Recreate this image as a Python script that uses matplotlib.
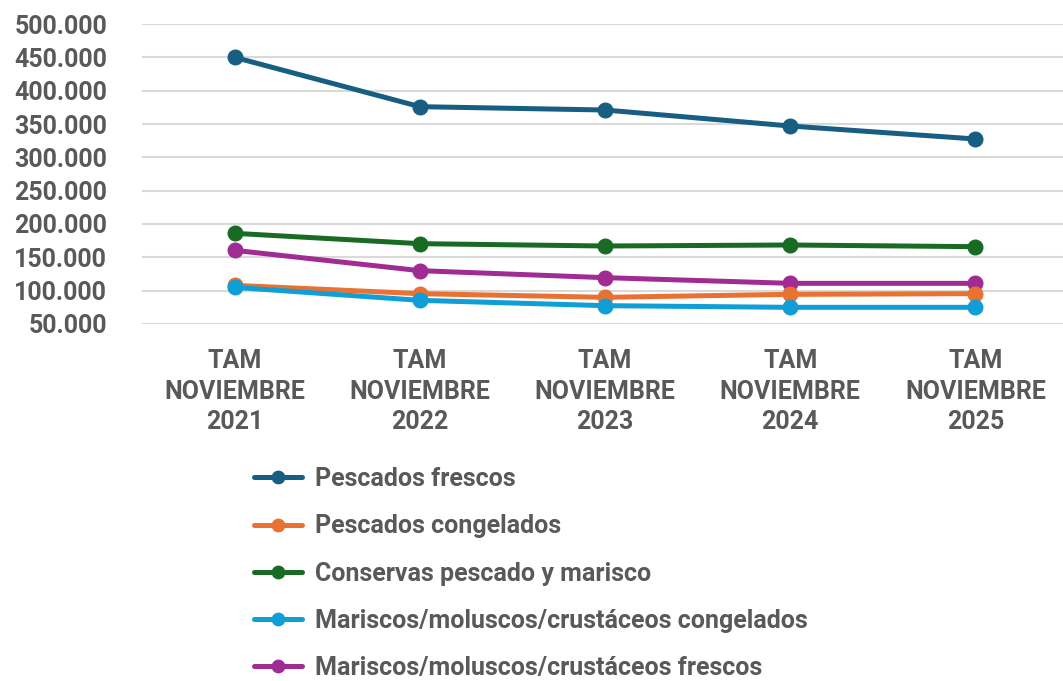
import matplotlib
matplotlib.use("Agg")
import matplotlib.pyplot as plt
from matplotlib.ticker import FuncFormatter

# datos
periodos = ["TAM\nNOVIEMBRE\n2021", "TAM\nNOVIEMBRE\n2022", "TAM\nNOVIEMBRE\n2023",
            "TAM\nNOVIEMBRE\n2024", "TAM\nNOVIEMBRE\n2025"]

pescados_frescos = [450000, 376000, 371000, 347000, 327500]
pescados_congelados = [108000, 95500, 90000, 94500, 95500]
conservas = [186000, 170500, 167000, 168500, 166000]
mariscos_congelados = [105000, 85500, 77500, 75000, 75000]
mariscos_frescos = [160500, 130000, 119500, 111000, 111000]

nombres = ["Pescados frescos", "Pescados congelados", "Conservas pescado y marisco",
           "Mariscos/moluscos/crustáceos congelados", "Mariscos/moluscos/crustáceos frescos"]
series = [pescados_frescos, pescados_congelados, conservas, mariscos_congelados, mariscos_frescos]
colores = ["#175E82", "#E97132", "#196B24", "#0F9ED5", "#A02B93"]

gris = "#595959"
plt.rcParams["font.family"] = ["Roboto", "DejaVu Sans"]
plt.rcParams["font.weight"] = "bold"

fig = plt.figure(figsize=(10.63, 6.81), dpi=100)
ax = fig.add_axes([142 / 1063, 1 - 324 / 681, 926 / 1063, 300 / 681])

x = range(len(periodos))
# orden de dibujo: el naranja queda debajo del azul claro
orden = [0, 2, 4, 1, 3]
lineas = {}
for i in orden:
    l, = ax.plot(x, series[i], color=colores[i], linewidth=3.6, marker="o",
                 markersize=10.5, label=nombres[i], solid_capstyle="round", zorder=3)
    lineas[i] = l

ax.set_xlim(-0.5, 4.5)
ax.set_ylim(50000, 500000)
ax.set_yticks(range(50000, 500001, 50000))
ax.yaxis.set_major_formatter(FuncFormatter(lambda v, p: f"{int(v):,}".replace(",", ".")))
ax.set_xticks(list(x))
ax.set_xticklabels(periodos, linespacing=1.35)

ax.grid(axis="y", color="#D9D9D9", linewidth=1.5, zorder=0)
for s in ax.spines.values():
    s.set_visible(False)
ax.tick_params(axis="both", length=0, labelsize=18, labelcolor=gris)
ax.tick_params(axis="y", pad=25)
ax.tick_params(axis="x", pad=18)
for t in ax.get_xticklabels() + ax.get_yticklabels():
    t.set_fontweight("bold")

leg = fig.legend([lineas[i] for i in range(5)], nombres, loc="upper left",
                 bbox_to_anchor=(254 / 1063, 1 - 467 / 681), frameon=False,
                 prop={"size": 18, "weight": "bold"}, handlelength=1.9,
                 handletextpad=0.55, labelspacing=0.93,
                 borderpad=0, borderaxespad=0, markerscale=0.85)
for t in leg.get_texts():
    t.set_color(gris)

fig.savefig("out.png", dpi=100)
